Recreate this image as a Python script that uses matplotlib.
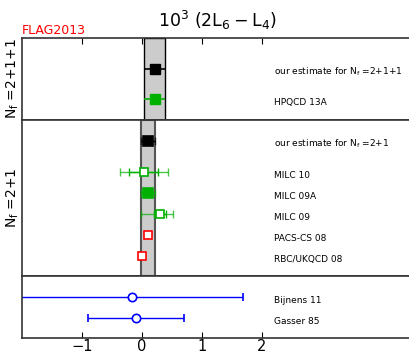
import matplotlib.pyplot as plt

# 2L6 - L4 (x 10^3), grouped by flavour content
nf4_labels = [r"our estimate for $\mathregular{N_f}$ =2+1+1", "HPQCD 13A"]
nf4_vals = [0.21, 0.21]
nf4_err = [0.17, 0.17]
nf4_band = (0.04, 0.38)

nf3_labels = [r"our estimate for $\mathregular{N_f}$ =2+1", "MILC 10", "MILC 09A",
              "MILC 09", "PACS-CS 08", "RBC/UKQCD 08"]
nf3_vals = [0.10, 0.03, 0.10, 0.30, 0.10, 0.00]
nf3_stat_lo = [0.12, 0.24, 0.12, 0.10, 0.02, 0.04]
nf3_stat_hi = [0.12, 0.24, 0.12, 0.10, 0.02, 0.04]
nf3_tot_lo = [0.12, 0.40, 0.12, 0.32, 0.02, 0.04]
nf3_tot_hi = [0.12, 0.40, 0.12, 0.22, 0.02, 0.04]
nf3_band = (-0.02, 0.22)

pheno_labels = ["Bijnens 11", "Gasser 85"]
pheno_vals = [-0.17, -0.10]
pheno_err = [1.86, 0.80]

GREEN = "#00b000"
BLUE = "#0000ff"
RED = "#ff0000"

fig = plt.figure(figsize=(4.10, 3.54), dpi=100)
left, width = 0.0537, 0.951
ax1 = fig.add_axes([left, 0.661, width, 0.2316])
ax2 = fig.add_axes([left, 0.2203, width, 0.4407])
ax3 = fig.add_axes([left, 0.0452, width, 0.1751])

for ax in (ax1, ax2, ax3):
    ax.set_xlim(-2, 4.5)
    ax.set_yticks([])
    ax.set_xticks([-1, 0, 1, 2])
    ax.tick_params(axis="x", direction="in", length=4, width=0.8,
                   bottom=False, top=False, labelbottom=False)
    for s in ax.spines.values():
        s.set_linewidth(1.2)
        s.set_color("#333333")
    ax.spines["right"].set_visible(False)

label_x = 2.2

# top panel: Nf = 2+1+1
ax1.set_ylim(82, 0)
ax1.axvspan(*nf4_band, facecolor="#cccccc", edgecolor="black", lw=1.0, zorder=0)
rows4 = [31, 61]
colors4 = ["black", GREEN]
for y, v, e, c, lab in zip(rows4, nf4_vals, nf4_err, colors4, nf4_labels):
    ax1.errorbar(v, y, xerr=e, fmt="s", color=c, mfc=c, mec=c, ms=6.5,
                 elinewidth=1.2, capsize=0)
    ax1.text(label_x, y + 3, lab, fontsize=6.5, va="center")
ax1.tick_params(axis="x", top=True)
ax1.set_ylabel(r"$\mathregular{N_f}$ =2+1+1", fontsize=10, labelpad=1)

# middle panel: Nf = 2+1
ax2.set_ylim(156, 0)
ax2.axvspan(*nf3_band, facecolor="#cccccc", edgecolor="#555555", lw=1.5, zorder=0)
rows3 = [21, 52, 73, 94, 115, 136]
colors3 = ["black", GREEN, GREEN, GREEN, RED, RED]
filled3 = [True, False, True, False, False, False]
for i, (y, v, c, f) in enumerate(zip(rows3, nf3_vals, colors3, filled3)):
    if c != RED:
        ax2.errorbar(v, y, xerr=[[nf3_tot_lo[i]], [nf3_tot_hi[i]]], fmt="none",
                     ecolor=c, elinewidth=1.0, capsize=3, capthick=1.0, alpha=0.7)
        ax2.errorbar(v, y, xerr=[[nf3_stat_lo[i]], [nf3_stat_hi[i]]], fmt="none",
                     ecolor=c, elinewidth=1.0, capsize=3 if i in (1, 3) else 0,
                     capthick=1.0)
    ax2.plot(v, y, "s", ms=6.5 if f else 6, mec=c, mew=1.2, mfc=c if f else "white")
    ax2.text(label_x, y + 3, nf3_labels[i], fontsize=6.5, va="center")
ax2.set_ylabel(r"$\mathregular{N_f}$ =2+1", fontsize=10, labelpad=1)

# bottom panel: phenomenology
ax3.set_ylim(62, 0)
rows_p = [21, 42]
for y, v, e, lab in zip(rows_p, pheno_vals, pheno_err, pheno_labels):
    ax3.errorbar(v, y, xerr=e, fmt="o", color=BLUE, mfc="white", mec=BLUE,
                 ms=6, mew=1.2, elinewidth=1.0, capsize=3, capthick=1.0)
    ax3.text(label_x, y + 3, lab, fontsize=6.5, va="center")
ax3.tick_params(axis="x", bottom=True, labelbottom=True, labelsize=10.5, pad=1)

fig.text(0.53, 0.943, r"$\mathregular{10^3\ (2L_6 - L_4)}$", fontsize=12.5,
         ha="center", va="center")
fig.text(0.052, 0.915, "FLAG2013", color=RED, fontsize=9, ha="left", va="center")

fig.savefig("out.png", dpi=100)
